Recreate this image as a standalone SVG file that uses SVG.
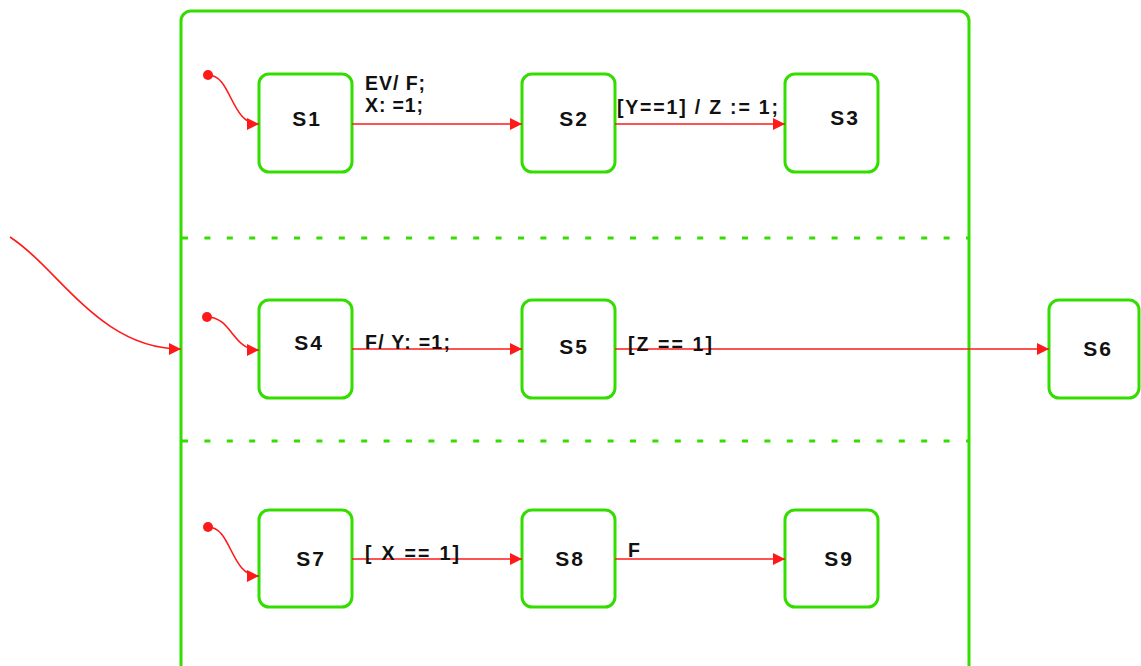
<svg xmlns="http://www.w3.org/2000/svg" width="1141" height="666" viewBox="0 0 1141 666">
<defs>
<marker id="ah" markerWidth="12" markerHeight="12" refX="12" refY="6" orient="auto" markerUnits="userSpaceOnUse">
<path d="M0,0 L12,6 L0,12 z" fill="#ff1a1a"/>
</marker>
<style>
.st{fill:#fff;stroke:#33dd00;stroke-width:3}
.lbl{font-family:"Liberation Sans",Arial,sans-serif;font-weight:bold;font-size:21px;fill:#111;text-anchor:middle;letter-spacing:2px}
.tl{font-family:"Liberation Sans",Arial,sans-serif;font-weight:bold;font-size:19.5px;fill:#111}
.cn{fill:none;stroke:#ff1a1a;stroke-width:1.6;marker-end:url(#ah)}
.dash{stroke:#33dd00;stroke-width:3;stroke-dasharray:6 16.4}
</style>
</defs>
<rect width="1141" height="666" fill="#fff"/>
<g id="container">
<rect x="181" y="11" width="788" height="675" rx="10" fill="none" stroke="#33dd00" stroke-width="3"/>
<line class="dash" x1="182" y1="238" x2="969" y2="238"/>
<line class="dash" x1="182" y1="441" x2="969" y2="441"/>
</g>
<g id="S1"><rect class="st" x="259" y="74" width="93" height="98" rx="10"/><text class="lbl" x="307" y="126">S1</text></g>
<g id="S2"><rect class="st" x="522" y="74" width="93" height="98" rx="10"/><text class="lbl" x="574" y="126">S2</text></g>
<g id="S3"><rect class="st" x="785" y="74" width="93" height="98" rx="10"/><text class="lbl" x="845" y="125">S3</text></g>
<g id="S4"><rect class="st" x="259" y="300" width="93" height="98" rx="10"/><text class="lbl" x="309" y="350">S4</text></g>
<g id="S5"><rect class="st" x="522" y="300" width="93" height="98" rx="10"/><text class="lbl" x="574" y="354">S5</text></g>
<g id="S6"><rect class="st" x="1049" y="300" width="90" height="98" rx="10"/><text class="lbl" x="1098" y="356">S6</text></g>
<g id="S7"><rect class="st" x="259" y="510" width="93" height="97" rx="10"/><text class="lbl" x="311" y="566">S7</text></g>
<g id="S8"><rect class="st" x="522" y="510" width="93" height="97" rx="10"/><text class="lbl" x="570" y="566">S8</text></g>
<g id="S9"><rect class="st" x="785" y="510" width="93" height="97" rx="10"/><text class="lbl" x="839" y="566">S9</text></g>
<g id="connectors">
<circle cx="208" cy="75" r="5" fill="#ff1a1a"/>
<path class="cn" d="M208,75 C232,75 230,124 259,124"/>
<circle cx="207" cy="317" r="5" fill="#ff1a1a"/>
<path class="cn" d="M207,317 C232,317 232,350 259,350"/>
<circle cx="208" cy="527" r="5" fill="#ff1a1a"/>
<path class="cn" d="M208,527 C232,527 230,576 259,576"/>
<path class="cn" d="M10,237 C60,270 100,349 181,349"/>
<line class="cn" x1="352" y1="124" x2="522" y2="124"/>
<line class="cn" x1="615" y1="124" x2="785" y2="124"/>
<line class="cn" x1="352" y1="349" x2="522" y2="349"/>
<line class="cn" x1="615" y1="349" x2="1049" y2="349"/>
<line class="cn" x1="352" y1="559" x2="522" y2="559"/>
<line class="cn" x1="615" y1="559" x2="785" y2="559"/>
</g>
<g id="labels">
<text class="tl" x="365" y="90" textLength="60" lengthAdjust="spacing">EV/ F;</text>
<text class="tl" x="365" y="112" textLength="58" lengthAdjust="spacing">X: =1;</text>
<text class="tl" x="617" y="114" textLength="161" lengthAdjust="spacing">[Y==1] / Z := 1;</text>
<text class="tl" x="365" y="349" textLength="85" lengthAdjust="spacing">F/ Y: =1;</text>
<text class="tl" x="628" y="351" textLength="84" lengthAdjust="spacing">[Z == 1]</text>
<text class="tl" x="365" y="560" textLength="94" lengthAdjust="spacing">[ X == 1]</text>
<text class="tl" x="628" y="557">F</text>
</g>
</svg>
